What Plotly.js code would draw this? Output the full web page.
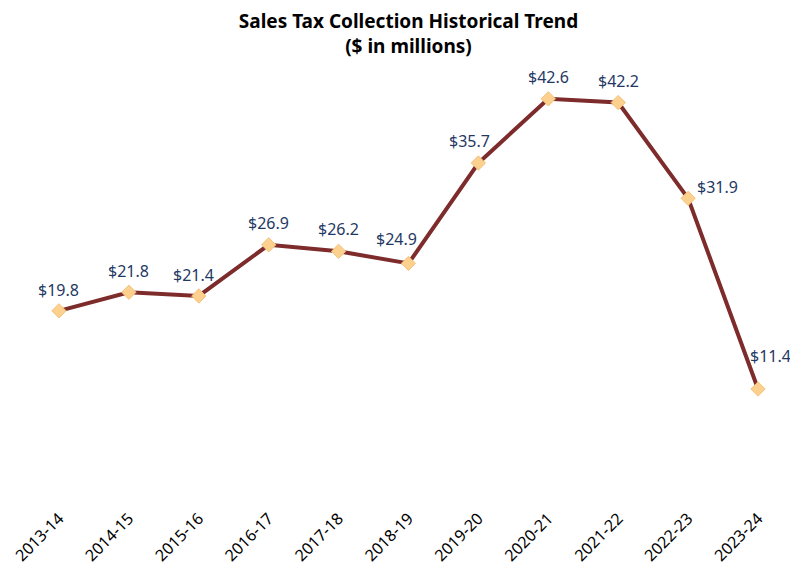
<!DOCTYPE html>
<html>
<head>
<meta charset="utf-8">
<script src="https://cdn.plot.ly/plotly-3.0.1.min.js"></script>
<style>html,body{margin:0;padding:0;background:#fff;}#chart{width:790px;height:568px;}</style>
</head>
<body>
<div id="chart"></div>
<script>
const years = ["2013-14","2014-15","2015-16","2016-17","2017-18","2018-19","2019-20","2020-21","2021-22","2022-23","2023-24"];
const salesTax = [19.8, 21.8, 21.4, 26.9, 26.2, 24.9, 35.7, 42.6, 42.2, 31.9, 11.4];
const labelText = salesTax.map(v => "$" + v.toFixed(1));

// label offsets (pixels) relative to each point
const labelDx = [0, 0, -5, 0, 0, -12, -9, 0, 0, 29, 12];
const labelDy = [21, 21, 21, 22, 22, 24, 22, 22, 22, 11, 33];

const trace = {
  x: years,
  y: salesTax,
  type: "scatter",
  mode: "lines+markers",
  line: {color: "#7D2B2B", width: 4},
  marker: {symbol: "diamond", size: 11, color: "#FCD08F", line: {color: "#F5C27A", width: 1}},
  cliponaxis: false,
  hoverinfo: "skip"
};

const annotations = years.map((yr, i) => ({
  x: yr, y: salesTax[i], xref: "x", yref: "y",
  text: labelText[i], showarrow: false,
  xshift: labelDx[i], yshift: labelDy[i],
  font: {family: "Noto Sans, sans-serif", size: 16, color: "#1F3864"}
}));

const layout = {
  width: 790, height: 568,
  margin: {l: 45, r: 18, t: 30, b: 73},
  paper_bgcolor: "#fff", plot_bgcolor: "#fff",
  showlegend: false,
  title: {
    text: "<b>Sales Tax Collection Historical Trend<br>($ in millions)</b>",
    font: {family: "Noto Sans, sans-serif", size: 19, color: "#000", lineposition: "none"},
    x: 0.5, xanchor: "center", xref: "paper",
    y: 0.95, yanchor: "middle", yref: "container"
  },
  xaxis: {
    type: "category", range: [-0.2, 10.2],
    showgrid: false, zeroline: false, showline: false, ticks: "",
    tickangle: -45, ticklabelstandoff: 10,
    tickfont: {family: "Noto Sans, sans-serif", size: 16, color: "#000"}
  },
  yaxis: {
    range: [0, 50], visible: false, showgrid: false, zeroline: false
  },
  annotations: annotations
};

Plotly.newPlot("chart", [trace], layout, {displayModeBar: false, staticPlot: true});
</script>
</body>
</html>
